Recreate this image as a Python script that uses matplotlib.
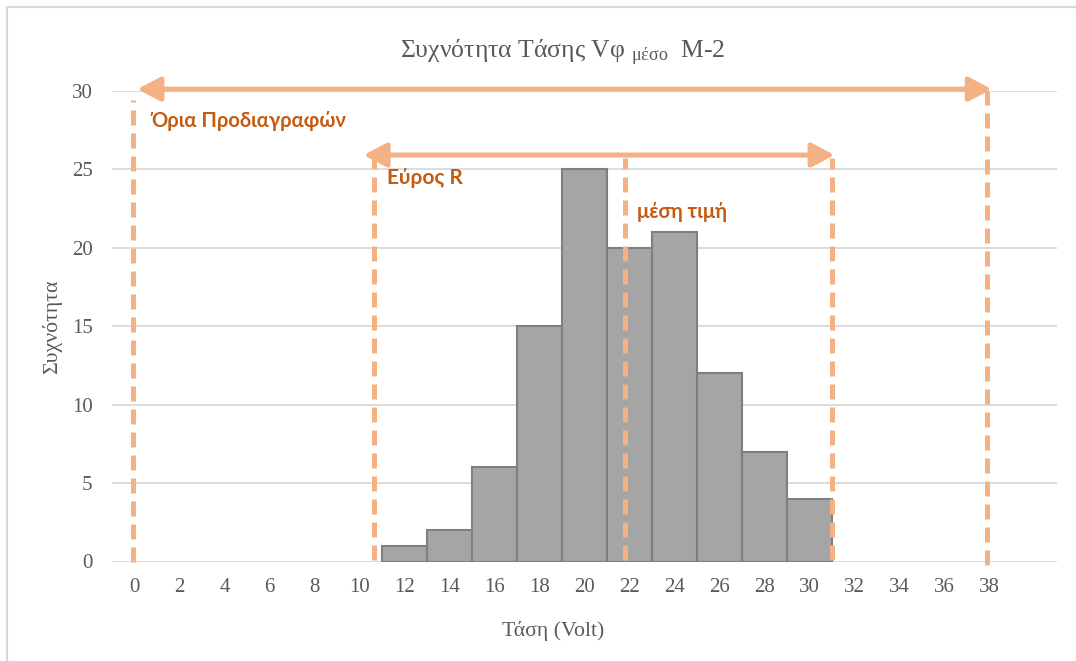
import matplotlib
matplotlib.use("Agg")
import matplotlib.pyplot as plt
from matplotlib.patches import Rectangle

# ---- data ----
bin_centers = [12, 14, 16, 18, 20, 22, 24, 26, 28, 30]
frequencies = [1, 2, 6, 15, 25, 20, 21, 12, 7, 4]
x_tick_values = list(range(0, 40, 2))
x_tick_labels = [str(v) for v in x_tick_values]
y_tick_values = [0, 5, 10, 15, 20, 25, 30]

spec_limits = [-0.08, 37.92]    # Όρια Προδιαγραφών
range_limits = [10.64, 31.0]    # Εύρος R
mean_value = 21.8               # μέση τιμή
spec_arrow_y = 30.1
range_arrow_y = 25.9

title_text = "Συχνότητα Τάσης Vφ $_{\\mathregular{μέσο}}$  M-2"
x_label = "Τάση (Volt)"
y_label = "Συχνότητα"
spec_label = "Όρια Προδιαγραφών"
range_label = "Εύρος R"
mean_label = "μέση τιμή"

# ---- style ----
W, H = 1076, 661
fig = plt.figure(figsize=(W / 100, H / 100), dpi=100)
serif = "Liberation Serif"
plt.rcParams["mathtext.fontset"] = "custom"
plt.rcParams["mathtext.rm"] = serif
plt.rcParams["mathtext.it"] = serif + ":italic"
txt_gray = "#595959"
orange = "#F4B183"
orange_txt = "#C55A11"
label_font = ["Lato", "Open Sans", "DejaVu Sans"]

left, right = 112 / W, 1056.5 / W
bottom, top = 1 - 561.5 / H, 1 - 90.7 / H
ax = fig.add_axes([left, bottom, right - left, top - bottom])

# chart border (left & top visible)
fig.patches.append(Rectangle((7 / W, -0.1), 1.2, 1 - 7 / H + 0.1, transform=fig.transFigure,
                             fill=False, edgecolor="#D9D9D9", linewidth=1.5))

ax.set_xlim(-1, 41)
ax.set_ylim(0, 30)
for s in ax.spines.values():
    s.set_visible(False)
ax.set_yticks(y_tick_values)
ax.yaxis.grid(True, color="#D9D9D9", linewidth=1.3)
ax.set_axisbelow(True)
ax.set_xticks(x_tick_values)
ax.set_xticklabels(x_tick_labels)
ax.tick_params(axis="both", length=0, labelsize=15, labelcolor=txt_gray)
ax.tick_params(axis="x", pad=12)
ax.tick_params(axis="y", pad=14)
for lab in ax.get_xticklabels() + ax.get_yticklabels():
    lab.set_fontfamily(serif)

ax.bar(bin_centers, frequencies, width=2, color="#A5A5A5", edgecolor="#7F7F7F",
       linewidth=1.5, zorder=2)

dash = (0, (3, 1.6))
lw = 3.6
# spec limit lines
ax.plot([spec_limits[0]] * 2, [0, 29.4], color=orange, lw=lw, ls=dash, zorder=3, clip_on=False)
ax.plot([spec_limits[1]] * 2, [-0.2, 30.0], color=orange, lw=lw, ls=dash, zorder=3, clip_on=False)
# range lines
for xv in range_limits:
    ax.plot([xv] * 2, [0.1, 25.7], color=orange, lw=lw, ls=dash, zorder=3, clip_on=False)
# mean line
ax.plot([mean_value] * 2, [0.1, 25.7], color=orange, lw=lw, ls=dash, zorder=3, clip_on=False)

arrowprops = dict(arrowstyle="<|-|>,head_length=13.8,head_width=7.3", color=orange, lw=3.6,
                  shrinkA=0, shrinkB=0, mutation_scale=1)
ax.annotate("", xy=(spec_limits[1] + 0.2, spec_arrow_y), xytext=(spec_limits[0] + 0.21, spec_arrow_y),
            arrowprops=arrowprops, annotation_clip=False, zorder=4)
ax.annotate("", xy=(range_limits[1] + 0.13, range_arrow_y), xytext=(range_limits[0] - 0.45, range_arrow_y),
            arrowprops=arrowprops, annotation_clip=False, zorder=4)

ax.text(0.75, 28.05, spec_label, color=orange_txt, fontsize=14.5, fontweight="bold",
        family=label_font, va="center", ha="left")
ax.text(11.23, 24.43, range_label, color=orange_txt, fontsize=15, fontweight="bold",
        family=label_font, va="center", ha="left")
ax.text(22.34, 22.3, mean_label, color=orange_txt, fontsize=14.5, fontweight="bold",
        family=label_font, va="center", ha="left")

fig.text(563 / W, 1 - 58 / H, title_text, fontsize=18.5, color=txt_gray, family=serif,
         ha="center", va="baseline")
fig.text(553 / W, 1 - 631 / H, x_label, fontsize=15.7, color=txt_gray, family=serif,
         ha="center", va="center")
fig.text(52 / W, 1 - 327 / H, y_label, fontsize=15.7, color=txt_gray, family=serif,
         ha="center", va="center", rotation=90)

fig.savefig("out.png", dpi=100, facecolor="white")
